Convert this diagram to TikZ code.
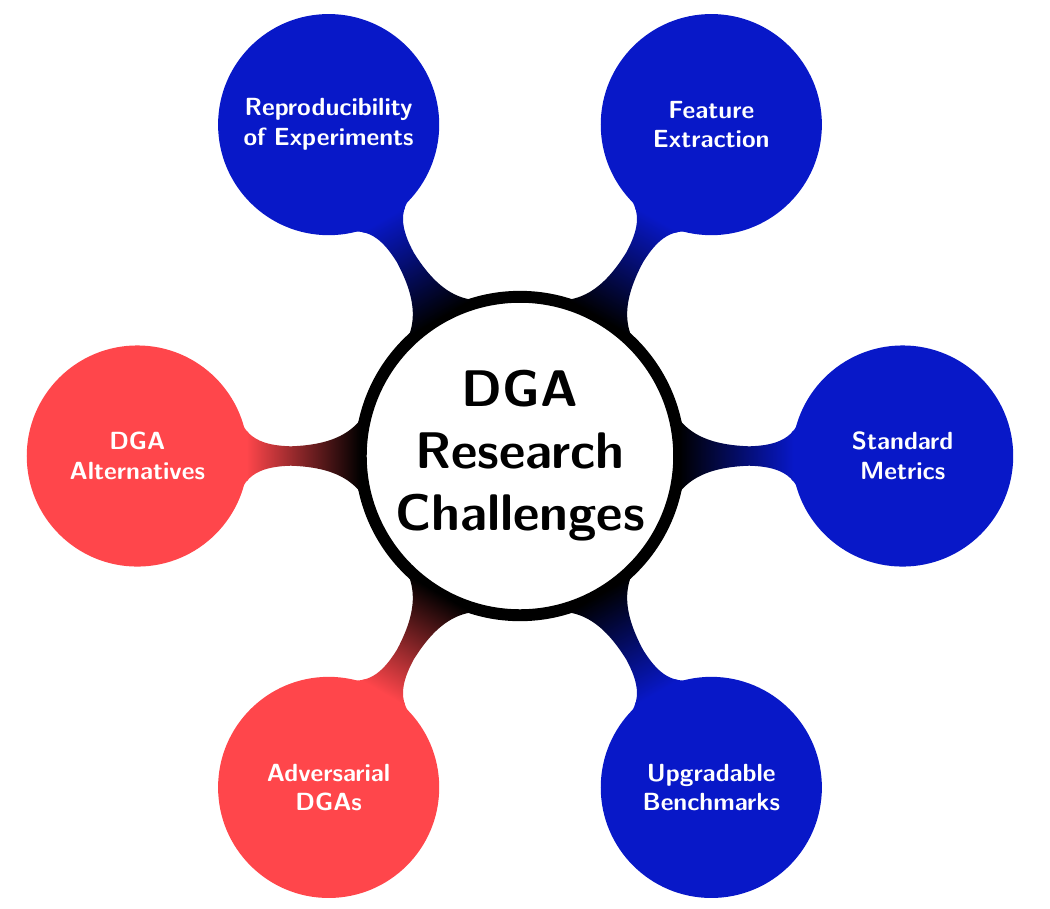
\documentclass[tikz,border=0pt]{standalone}
\usetikzlibrary{mindmap}
\definecolor{mapblue}{RGB}{8,24,200}
\definecolor{mapred}{RGB}{255,70,75}
\begin{document}
\begin{tikzpicture}[mindmap,
        every node/.style={concept, font=\sffamily\bfseries, align=center},
        level 1/.append style={level distance=5.42cm},
        level 1 concept/.append style={minimum size=3.09cm, text width=2.6cm, text=white, font=\normalsize\sffamily\bfseries}]
        \useasboundingbox (-7.365, -6.402) rectangle (7.507, 6.459);

        \node[concept color=black, fill=white, draw=black, line width=4.8pt, text=black,
              minimum size=4.51cm, text width=3.6cm, font=\huge\sffamily\bfseries] (root) at (0, 0) {DGA\\ Research\\ Challenges}
            child[grow=0, concept color=mapblue] {node (metrics) {Standard\\ Metrics}}
            child[grow=60, concept color=mapblue] {node (features) {Feature\\ Extraction}}
            child[grow=120, concept color=mapblue] {node (repro) {Reproducibility\\ of Experiments}}
            child[grow=180, concept color=mapred] {node (altern) {DGA\\ Alternatives}}
            child[grow=240, concept color=mapred] {node (advers) {Adversarial\\ DGAs}}
            child[grow=300, concept color=mapblue] {node (bench) {Upgradable\\ Benchmarks}};
    \end{tikzpicture}
\end{document}
